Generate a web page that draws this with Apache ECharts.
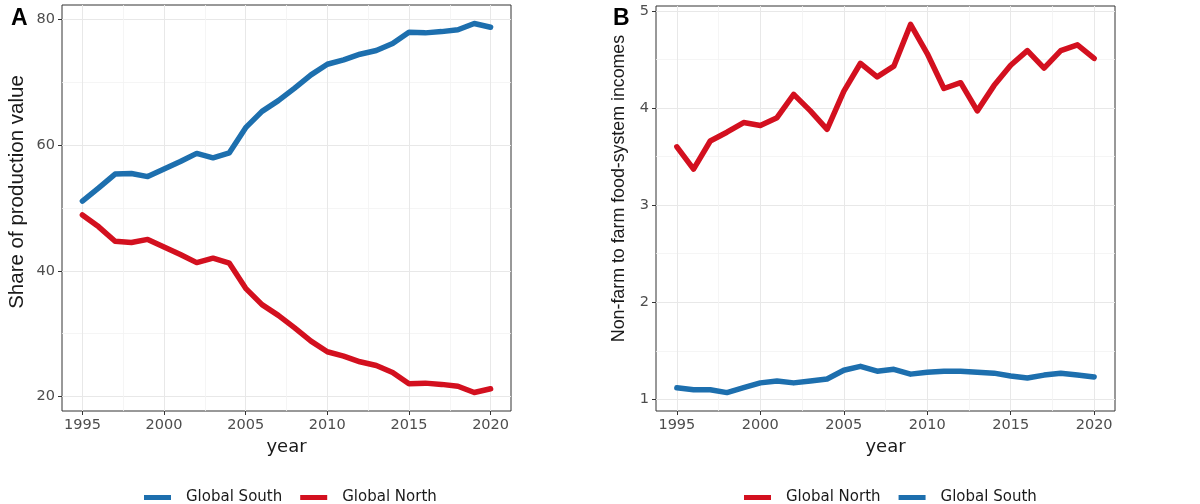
<!DOCTYPE html>
<html>
<head>
<meta charset="utf-8">
<script src="https://cdn.jsdelivr.net/npm/echarts@6/dist/echarts.min.js"></script>
<style>html,body{margin:0;padding:0;background:#fff}#c{width:1200px;height:504px}</style>
</head>
<body>
<div id="c"></div>
<script>
const years = [1995,1996,1997,1998,1999,2000,2001,2002,2003,2004,2005,2006,2007,2008,2009,2010,2011,2012,2013,2014,2015,2016,2017,2018,2019,2020];
// Panel A: share of production value
const shareSouth = [51.1,53.2,55.4,55.5,55.0,56.2,57.4,58.7,58.0,58.8,62.8,65.4,67.1,69.1,71.2,72.9,73.6,74.5,75.1,76.2,78.0,77.9,78.1,78.4,79.4,78.8];
const shareNorth = [48.9,47.0,44.7,44.5,45.0,43.8,42.6,41.3,42.0,41.2,37.2,34.6,32.9,30.9,28.8,27.1,26.4,25.5,24.9,23.8,22.0,22.1,21.9,21.6,20.6,21.2];
// Panel B: non-farm to farm food-system incomes
const ratioNorth = [3.60,3.37,3.66,3.75,3.85,3.82,3.90,4.14,3.97,3.78,4.17,4.46,4.32,4.43,4.86,4.56,4.20,4.26,3.97,4.23,4.44,4.59,4.41,4.59,4.65,4.51];
const ratioSouth = [1.12,1.10,1.10,1.07,1.12,1.17,1.19,1.17,1.19,1.21,1.30,1.34,1.29,1.31,1.26,1.28,1.29,1.29,1.28,1.27,1.24,1.22,1.25,1.27,1.25,1.23];
const xMajor = [1995,2000,2005,2010,2015,2020];
const xMinor = [1997.5,2002.5,2007.5,2012.5,2017.5];
const yMajorA = [20,40,60,80];
const yMinorA = [30,50,70];
const yMajorB = [1,2,3,4,5];
const yMinorB = [1.5,2.5,3.5,4.5];

const BLUE = '#1d6fae';
const RED = '#d3101f';
const FONT = 'DejaVu Sans';

function pairs(v){ return years.map((y,i)=>[y,v[i]]); }
function expand(arrs){
  const all = [].concat(...arrs);
  const lo = Math.min(...all), hi = Math.max(...all), d = (hi-lo)*0.05;
  return [lo-d, hi+d];
}
const xr = expand([years]);
const yrA = expand([shareSouth, shareNorth]);
const yrB = expand([ratioNorth, ratioSouth]);

function xAxes(gi){
  return [
    { type:'value', gridIndex:gi, min:xr[0], max:xr[1],
      name:'year', nameLocation:'middle', nameGap:22,
      nameTextStyle:{fontFamily:FONT, fontSize:18, color:'#1a1a1a'},
      axisLine:{show:false},
      axisTick:{show:true, length:4, lineStyle:{color:'#333'}, customValues:xMajor},
      axisLabel:{customValues:xMajor, formatter:(v)=>String(Math.round(v)), color:'#4d4d4d', fontFamily:FONT, fontSize:14.5, margin:7},
      splitLine:{show:true, lineStyle:{color:'#e8e8e8', width:1}} },
    { type:'value', gridIndex:gi, min:xr[0], max:xr[1],
      axisLine:{show:false},
      axisTick:{show:false, customValues:xMinor},
      axisLabel:{show:false, customValues:xMinor},
      splitLine:{show:true, lineStyle:{color:'#f2f2f2', width:0.8}} }
  ];
}
function yAxes(gi, rng, major, minor, name, nameSize, gap, pad){
  return [
    { type:'value', gridIndex:gi, min:rng[0], max:rng[1],
      name:name, nameLocation:'middle', nameGap:gap, nameRotate:90,
      nameTextStyle:{fontFamily:'Liberation Sans', fontSize:nameSize, color:'#1a1a1a', padding:pad},
      axisLine:{show:false},
      axisTick:{show:true, length:4, lineStyle:{color:'#333'}, customValues:major},
      axisLabel:{customValues:major, formatter:(v)=>String(v), color:'#4d4d4d', fontFamily:FONT, fontSize:14.5, margin:7},
      splitLine:{show:true, lineStyle:{color:'#e8e8e8', width:1}} },
    { type:'value', gridIndex:gi, min:rng[0], max:rng[1],
      axisLine:{show:false},
      axisTick:{show:false, customValues:minor},
      axisLabel:{show:false, customValues:minor},
      splitLine:{show:true, lineStyle:{color:'#f2f2f2', width:0.8}} }
  ];
}
function line(name, data, color, xi, yi){
  return { type:'line', name:name, data:pairs(data), xAxisIndex:xi, yAxisIndex:yi,
    showSymbol:false, symbol:'none', lineStyle:{color:color, width:5.5, cap:'round', join:'round'},
    itemStyle:{color:color}, z:5, animation:false };
}

const chart = echarts.init(document.getElementById('c'), null, {renderer:'canvas'});
chart.setOption({
  animation:false,
  backgroundColor:'#fff',
  title:[
    {text:'A', left:6, top:2, textStyle:{fontFamily:'Liberation Sans', fontWeight:'bold', fontSize:23, color:'#000'}},
    {text:'B', left:608, top:2, textStyle:{fontFamily:'Liberation Sans', fontWeight:'bold', fontSize:23, color:'#000'}}
  ],
  grid:[
    {left:62, top:5, right:689, bottom:93, show:true, borderColor:'#333', borderWidth:1, backgroundColor:'transparent'},
    {left:656, top:6, right:85, bottom:93, show:true, borderColor:'#333', borderWidth:1, backgroundColor:'transparent'}
  ],
  xAxis:[...xAxes(0), ...xAxes(1)],
  yAxis:[
    ...yAxes(0, yrA, yMajorA, yMinorA, 'Share of production value', 20.5, 34, [0,0,0,32]),
    ...yAxes(1, yrB, yMajorB, yMinorB, 'Non-farm to farm food-system incomes', 17.8, 28, [0,0,0,40])
  ],
  legend:[
    {data:['Global South','Global North'], left:139, top:485, icon:'rect', itemWidth:27, itemHeight:5, itemGap:18,
     textStyle:{fontFamily:FONT, fontSize:15, color:'#1a1a1a', padding:[0,0,0,10]}},
    {data:['Global North','Global South'], left:739, top:485, icon:'rect', itemWidth:27, itemHeight:5, itemGap:18,
     textStyle:{fontFamily:FONT, fontSize:15, color:'#1a1a1a', padding:[0,0,0,10]}}
  ],
  series:[
    line('Global South', shareSouth, BLUE, 0, 0),
    line('Global North', shareNorth, RED, 0, 0),
    line('Global North', ratioNorth, RED, 2, 2),
    line('Global South', ratioSouth, BLUE, 2, 2)
  ]
});
</script>
</body>
</html>
